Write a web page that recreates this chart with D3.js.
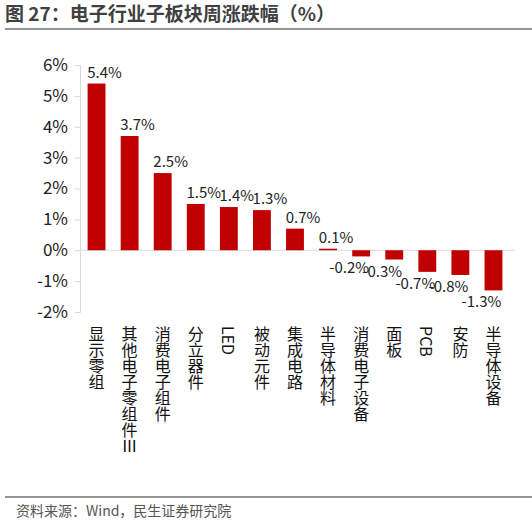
<!DOCTYPE html><html><head><meta charset="utf-8"><script src="https://cdn.jsdelivr.net/npm/d3@7"></script>
<style>body{margin:0;background:#fff;font-family:"Noto Sans CJK SC","Microsoft YaHei",sans-serif}</style></head><body><svg id="c" width="532" height="524"></svg>
<script>
const categories=["显示零组","其他电子零组件Ⅲ","消费电子组件","分立器件","LED","被动元件","集成电路","半导体材料","消费电子设备","面板","PCB","安防","半导体设备"];
const values=[5.4,3.7,2.5,1.5,1.4,1.3,0.7,0.05,-0.2,-0.3,-0.7,-0.8,-1.3];
const labels=["5.4%","3.7%","2.5%","1.5%","1.4%","1.3%","0.7%","0.1%","-0.2%","-0.3%","-0.7%","-0.8%","-1.3%"];
const yTicks=[-2,-1,0,1,2,3,4,5,6];
const svg=d3.select("#c");
svg.append("text").attr("x",5).attr("y",21).attr("font-size",19).attr("font-weight","bold").attr("fill","#404040").text("图 27：电子行业子板块周涨跌幅（%）");
svg.append("line").attr("x1",5).attr("x2",532).attr("y1",29).attr("y2",29).attr("stroke","#707070").attr("stroke-width",1.5);
svg.append("line").attr("x1",5).attr("x2",532).attr("y1",497).attr("y2",497).attr("stroke","#707070").attr("stroke-width",1.5);
svg.append("text").attr("x",16).attr("y",516).attr("font-size",14).attr("fill","#555").text("资料来源：Wind，民生证券研究院");
const y=d3.scaleLinear().domain([-2,6]).range([312,65]);
const x=d3.scaleBand().domain(categories).range([80,510]).paddingInner(0.46).paddingOuter(0.23);
const ax=svg.append("g").attr("transform","translate(80,0)").call(d3.axisLeft(y).tickValues(yTicks).tickFormat(d=>d+"%").tickSize(5));
ax.select(".domain").attr("stroke","#d9d9d9");ax.selectAll("line").attr("stroke","#d9d9d9");
ax.selectAll("text").attr("font-size",17).attr("fill","#222").attr("font-family","Noto Sans CJK SC").attr("x",-12);
svg.append("line").attr("x1",80).attr("x2",515).attr("y1",y(0)).attr("y2",y(0)).attr("stroke","#d9d9d9");
svg.selectAll("rect.b").data(values).join("rect").attr("fill","#C00000")
 .attr("x",(d,i)=>x(categories[i])).attr("width",x.bandwidth())
 .attr("y",d=>y(Math.max(0,d))).attr("height",d=>Math.abs(y(d)-y(0)));
svg.selectAll("text.v").data(values).join("text").attr("font-size",15).attr("fill","#222")
 .attr("text-anchor","middle")
 .attr("x",(d,i)=>x(categories[i])+x.bandwidth()/2+(d<0?-12:8))
 .attr("y",d=>d>=0?y(d)-6:y(d)+17).text((d,i)=>labels[i]);
svg.selectAll("text.c").data(categories).join("text").attr("font-size",16).attr("fill","#111")
 .attr("writing-mode","vertical-rl").attr("x",(d,i)=>x(d)+x.bandwidth()/2).attr("y",326).text(d=>d);
</script></body></html>
